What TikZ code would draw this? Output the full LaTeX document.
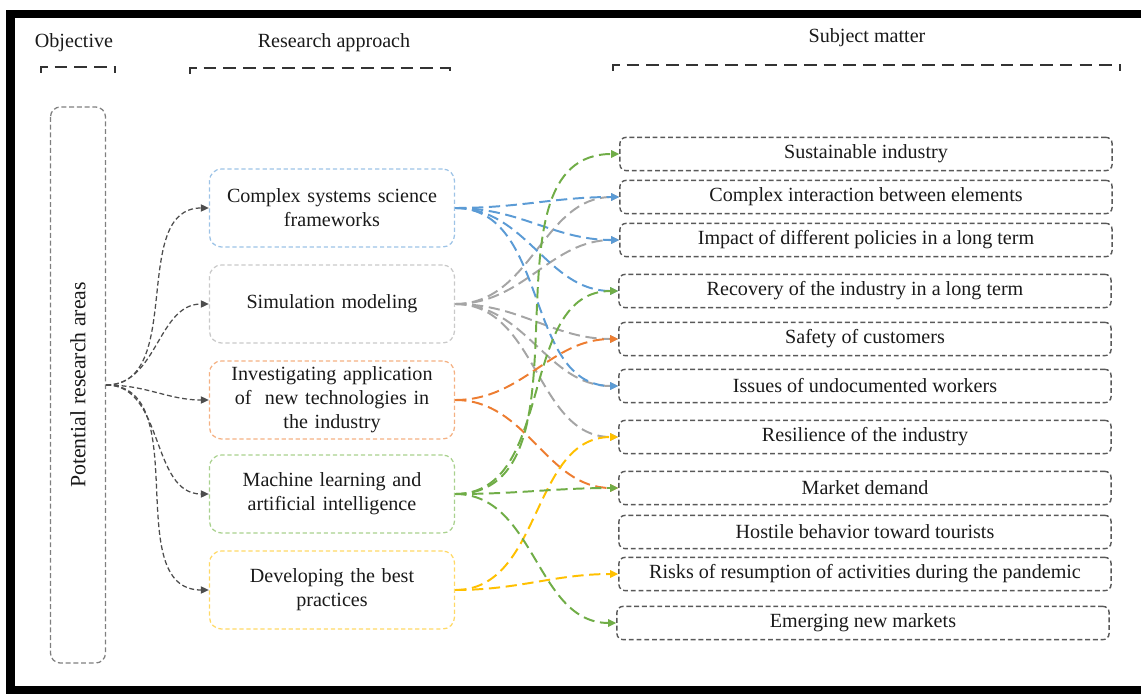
\documentclass[tikz,border=0pt]{standalone}
\usepackage{fontspec}
\setmainfont{Liberation Serif}
\usetikzlibrary{arrows.meta}

\definecolor{csfc}{HTML}{9DC3E6}
\definecolor{csfl}{HTML}{5B9BD5}
\definecolor{simc}{HTML}{C9C9C9}
\definecolor{siml}{HTML}{A5A5A5}
\definecolor{techc}{HTML}{F4B183}
\definecolor{techl}{HTML}{ED7D31}
\definecolor{mlc}{HTML}{A9D18E}
\definecolor{mll}{HTML}{70AD47}
\definecolor{bestc}{HTML}{FFD966}
\definecolor{bestl}{HTML}{FFC000}
\definecolor{subc}{HTML}{595959}
\definecolor{objc}{HTML}{7F7F7F}
\definecolor{linkc}{HTML}{4D4D4D}
\definecolor{txt}{HTML}{1A1A1A}

\tikzset{
  apbox/.style={draw=#1, dash pattern=on 3pt off 2pt, line width=0.9pt,
    rounded corners=0.3cm, minimum width=6.125cm, minimum height=1.95cm,
    text width=5.8cm, align=center, inner sep=0pt},
  subbox/.style={draw=subc, dash pattern=on 3.5pt off 2pt, line width=1pt,
    rounded corners=0.15cm, minimum width=12.3cm, minimum height=0.83cm, inner sep=0pt},
  flow/.style={#1, dash pattern=on 8pt off 4pt, line width=1.4pt,
    -{Triangle[length=2mm,width=1.8mm]}},
  link/.style={linkc, dash pattern=on 3.5pt off 2pt, line width=0.9pt,
    -{Triangle[length=2mm,width=1.8mm]}},
  bracket/.style={black!80, dash pattern=on 9pt off 5pt, line width=1.3pt}
}

\begin{document}
\begin{tikzpicture}[x=0.025cm, y=-0.025cm, text=txt, font=\fontsize{14.3}{17}\selectfont]
    \useasboundingbox (0,0) rectangle (1141,694);

    % 黑色外框
    \fill[black] (6,10) rectangle (1141,18);
    \fill[black] (6,10) rectangle (15,694);
    \fill[black] (6,686) rectangle (1141,694);

    % 标题
    \node (hobj) at (74,43) {Objective};
    \node (happ) at (334,43) {Research approach};
    \node (hsub) at (867,38) {Subject matter};
    \draw[bracket] (41,73) -- (41,67) -- (115,67) -- (115,73);
    \draw[bracket] (190,74) -- (190,68) -- (450,68) -- (450,74);
    \draw[bracket] (613,71) -- (613,65) -- (1120,65) -- (1120,71);

    % 目标（旋转的框，south 在右侧）
    \node[draw=objc, dash pattern=on 3.5pt off 2pt, line width=0.9pt, rounded corners=0.25cm,
          rotate=90, minimum width=13.9cm, minimum height=1.375cm,
          font=\fontsize{15.5}{18}\selectfont] (obj) at (78,385) {Potential research areas};

    % 研究方法
    \node[apbox=csfc] (csf) at (332,208) {Complex systems science\\frameworks};
    \node[apbox=simc] (sim) at (332,304) {Simulation modeling};
    \node[apbox=techc] (tech) at (332,400) {Investigating application\\of \ new technologies in\\the industry};
    \node[apbox=mlc] (ml) at (332,494) {Machine learning and\\artificial intelligence};
    \node[apbox=bestc] (best) at (332,590) {Developing the best\\practices};

    % 研究内容
    \node[subbox] (sust) at (866,154) {Sustainable industry};
    \node[subbox] (inter) at (866,197) {Complex interaction between elements};
    \node[subbox] (policy) at (866,240) {Impact of different policies in a long term};
    \node[subbox] (recov) at (865,291) {Recovery of the industry in a long term};
    \node[subbox] (safety) at (865,339) {Safety of customers};
    \node[subbox] (undoc) at (865,386) {Issues of undocumented workers};
    \node[subbox] (resil) at (865,437) {Resilience of the industry};
    \node[subbox] (market) at (865,488) {Market demand};
    \node[subbox] (hostile) at (865,532) {Hostile behavior toward tourists};
    \node[subbox] (risks) at (865,574) {Risks of resumption of activities during the pandemic};
    \node[subbox] (emerg) at (863,623) {Emerging new markets};

    % 目标 -> 方法
    \draw[link] (obj.south) to[out=0,in=180] (csf.west);
    \draw[link] (obj.south) to[out=0,in=180] (sim.west);
    \draw[link] (obj.south) to[out=0,in=180] (tech.west);
    \draw[link] (obj.south) to[out=0,in=180] (ml.west);
    \draw[link] (obj.south) to[out=0,in=180] (best.west);

    % 方法 -> 内容
    \draw[flow=siml] (sim.east) to[out=0,in=180] (inter.west);
    \draw[flow=siml] (sim.east) to[out=0,in=180] (policy.west);
    \draw[flow=siml] (sim.east) to[out=0,in=180] (safety.west);
    \draw[flow=siml] (sim.east) to[out=0,in=180] (undoc.west);
    \draw[flow=siml] (sim.east) to[out=0,in=180] (resil.west);

    \draw[flow=csfl] (csf.east) to[out=0,in=180] (inter.west);
    \draw[flow=csfl] (csf.east) to[out=0,in=180] (policy.west);
    \draw[flow=csfl] (csf.east) to[out=0,in=180] (recov.west);
    \draw[flow=csfl] (csf.east) to[out=0,in=180] (undoc.west);

    \draw[flow=techl] (tech.east) to[out=0,in=180] (safety.west);
    \draw[flow=techl] (tech.east) to[out=0,in=180] (market.west);

    \draw[flow=bestl] (best.east) to[out=0,in=180] (resil.west);
    \draw[flow=bestl] (best.east) to[out=0,in=180] (risks.west);

    \draw[flow=mll] (ml.east) to[out=0,in=180] (sust.west);
    \draw[flow=mll] (ml.east) to[out=0,in=180] (recov.west);
    \draw[flow=mll] (ml.east) to[out=0,in=180] (market.west);
    \draw[flow=mll] (ml.east) to[out=0,in=180] (emerg.west);
\end{tikzpicture}
\end{document}
